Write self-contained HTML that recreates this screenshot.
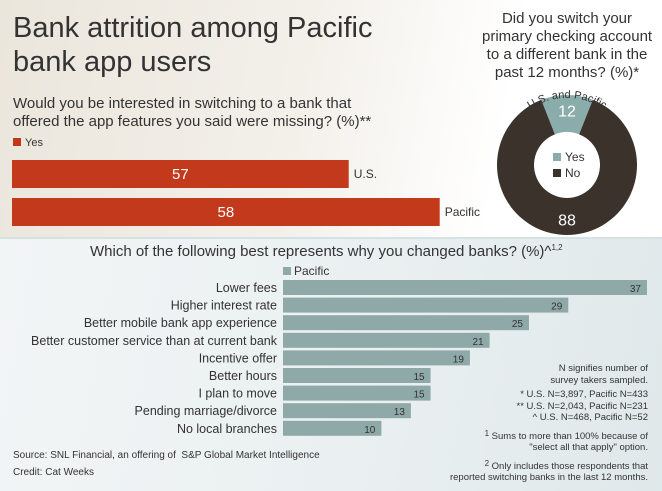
<!DOCTYPE html>
<html><head><meta charset="utf-8"><style>
body{margin:0;width:662px;height:489px;overflow:hidden;font-family:"Liberation Sans",sans-serif;}
#top{position:absolute;left:0;top:0;width:662px;height:237px;background:linear-gradient(100deg,#ebe6dc 0%,#f3f0ea 45%,#ffffff 75%,#ffffff 100%);}
#bot{position:absolute;left:0;top:237px;width:662px;height:252px;background:linear-gradient(100deg,#f2f5f6 0%,#e9eff0 60%,#dfe8ea 100%);border-top:2px solid #d5e2e4;}
.t{position:absolute;white-space:nowrap;color:#333;}
.n{font-size:9.5px;line-height:11.5px;}
</style></head><body>
<div id="top"></div>
<div id="bot"></div>
<div class="t" style="left:13px;top:11px;font-size:29px;line-height:34px;color:#333;">Bank attrition among Pacific<br>bank app users</div>
<div class="t" style="left:13px;top:95px;font-size:15px;line-height:18px;">Would you be interested in switching to a bank that<br>offered the app features you said were missing? (%)**</div>
<div class="t" style="left:482px;top:10px;width:170px;text-align:center;font-size:15px;line-height:18px;">Did you switch your<br>primary checking account<br>to a different bank in the<br>past 12 months? (%)*</div>
<div class="t" style="left:90px;top:243px;font-size:15px;">Which of the following best represents why you changed banks? (%)^<sup style="font-size:8px">1,2</sup></div>
<div class="t" style="left:13px;top:450px;font-size:10px;">Source: SNL Financial, an offering of&nbsp; S&amp;P Global Market Intelligence</div>
<div class="t" style="left:13px;top:467px;font-size:10px;">Credit: Cat Weeks</div>
<div class="t n" style="right:14px;top:363px;text-align:right;">N signifies number of<br>survey takers sampled.<div style="height:3px"></div>* U.S. N=3,897, Pacific N=433<br>** U.S. N=2,043, Pacific N=231<br>^ U.S. N=468, Pacific N=52<div style="height:4px"></div><span style="font-size:8px;vertical-align:3px">1</span> Sums to more than 100% because of<br>"select all that apply" option.<div style="height:4px"></div><span style="font-size:8px;vertical-align:3px">2</span> Only includes those respondents that<br>reported switching banks in the last 12 months.</div>
<svg id="chart" width="662" height="489" style="position:absolute;left:0;top:0"></svg>
<script>
const topCats=["U.S.","Pacific"];
const topVals=[57,58];
const donutCats=["Yes","No"];
const donutVals=[12,88];
const reasons=["Lower fees","Higher interest rate","Better mobile bank app experience","Better customer service than at current bank","Incentive offer","Better hours","I plan to move","Pending marriage/divorce","No local branches"];
const reasonVals=[37,29,25,21,19,15,15,13,10];

const NS="http://www.w3.org/2000/svg";
const svg=document.getElementById('chart');
function mk(tag,attrs,name,parent){const e=document.createElementNS(NS,tag);for(const k in attrs)e.setAttribute(k,attrs[k]);


(parent||svg).appendChild(e);return e;}
function txt(x,y,s,size,fill,anchor,name){const t=mk('text',{x:x,y:y,'font-size':size,fill:fill,'text-anchor':anchor||'start','font-family':'Liberation Sans, sans-serif'},name);t.textContent=s;return t;}

// top bar chart
mk('rect',{x:13,y:138,width:8,height:8,fill:'#c0391b'},'legend-yes-swatch');
txt(25,146,'Yes',11,'#333','start','legend-yes-label');
const tx=v=>12+(v-53.3)*91;
topVals.forEach((v,i)=>{const y=160+i*38;
 mk('rect',{x:12,y:y,width:tx(v)-12,height:28,fill:'#c2391b'},'bar-'+topCats[i].toLowerCase().replace(/\W/g,''));
 txt((12+tx(v))/2,y+19,String(v),15,'#fff','middle','bar-value-'+i);
 txt(tx(v)+5,y+18,topCats[i],12,'#333','start','bar-label-'+i);
});

// donut
const cx=567,cy=165,R=70,r=33;
const cols=['#8aadab','#3a322b'];
let a0=-donutVals[0]/100*Math.PI;
donutVals.forEach((v,i)=>{const a1=a0+v/100*2*Math.PI;const large=v>50?1:0;
 const p=(a,rad)=>[cx+rad*Math.sin(a),cy-rad*Math.cos(a)];
 const [x0,y0]=p(a0,R),[x1,y1]=p(a1,R),[x2,y2]=p(a1,r),[x3,y3]=p(a0,r);
 mk('path',{d:`M${x0},${y0}A${R},${R} 0 ${large} 1 ${x1},${y1}L${x2},${y2}A${r},${r} 0 ${large} 0 ${x3},${y3}Z`,fill:cols[i]},'donut-slice-'+donutCats[i].toLowerCase());
 const mid=(a0+a1)/2;const [lx,ly]=p(mid,(R+r)/2+3);
 txt(lx,ly+6,String(v),16,'#fff','middle','donut-value-'+donutCats[i].toLowerCase());
 a0=a1;});
donutCats.forEach((c,i)=>{mk('rect',{x:553,y:153+i*16,width:8,height:8,fill:cols[i]},'donut-legend-swatch-'+c.toLowerCase());
 txt(565,161+i*16,c,12,'#333','start','donut-legend-'+c.toLowerCase());});
const ar=67;
mk('path',{d:`M${cx-ar},${cy} A${ar},${ar} 0 0 1 ${cx+ar},${cy}`,fill:'none',id:'arcpath'},'donut-label-path');
const dl=mk('text',{'font-size':11,fill:'#333','font-family':'Liberation Sans, sans-serif','text-anchor':'middle'},'donut-title');
const tp=document.createElementNS(NS,'textPath');tp.setAttribute('href','#arcpath');tp.setAttribute('startOffset','50%');tp.textContent='U.S. and Pacific';dl.appendChild(tp);

// bottom bar chart
mk('rect',{x:283,y:267,width:8,height:8,fill:'#8fa9a8'},'legend-pacific-swatch');
txt(294,275,'Pacific',12,'#333','start','legend-pacific-label');
const bx=v=>283+v*(364/37);
const by=i=>280+i*17.6;
reasonVals.forEach((v,i)=>{const y=by(i);
 mk('rect',{x:283,y:y,width:bx(v)-283,height:15,fill:'#8fa9a8'},'reason-bar-'+i);
 txt(bx(v)-6,y+12,String(v),10,'#333','end','reason-value-'+i);
 txt(277,y+12,reasons[i],12.5,'#333','end','reason-label-'+i);
});
</script>
</body></html>
